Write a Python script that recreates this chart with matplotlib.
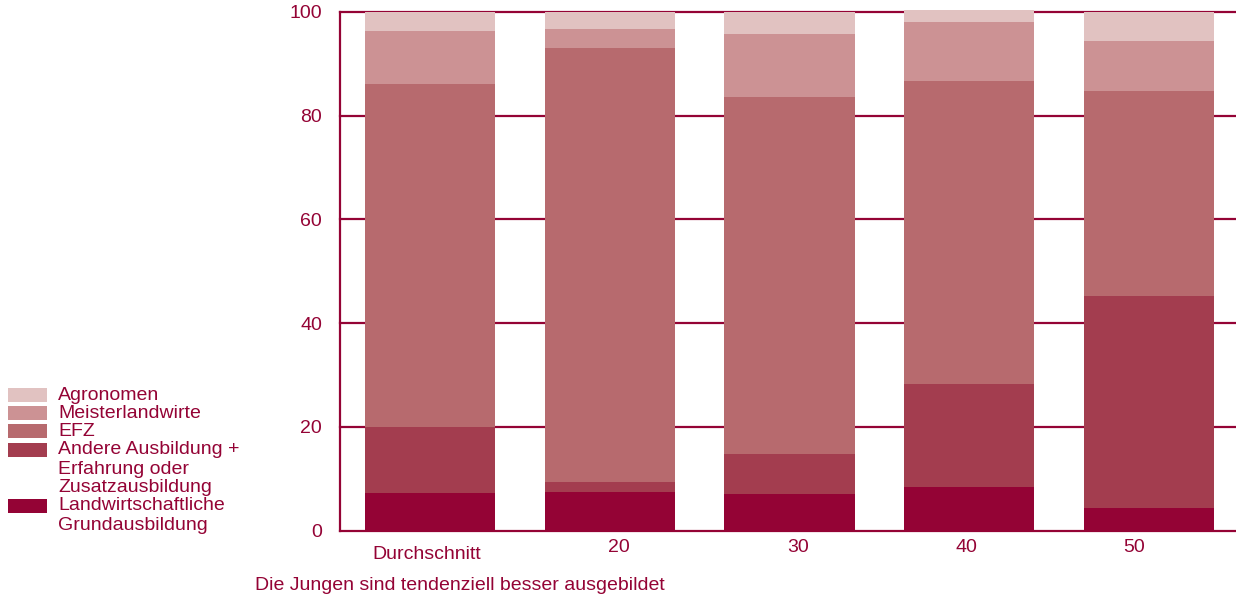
import matplotlib.pyplot as plt
import matplotlib.transforms as mtransforms
from matplotlib.patches import Rectangle

categories = ["Durchschnitt", "20", "30", "40", "50"]
landwirtschaftliche = [7.2, 7.4, 7.0, 8.4, 4.3]
andere = [12.8, 2.0, 7.8, 19.9, 41.0]
efz = [66.2, 83.6, 68.9, 58.3, 39.4]
meister = [10.2, 3.8, 12.0, 11.4, 9.8]
agronomen = [3.6, 3.2, 4.3, 2.4, 5.5]

series_labels = [
    "Landwirtschaftliche\nGrundausbildung",
    "Andere Ausbildung +\nErfahrung oder\nZusatzausbildung",
    "EFZ",
    "Meisterlandwirte",
    "Agronomen",
]
yticks = [0, 20, 40, 60, 80, 100]
caption = "Die Jungen sind tendenziell besser ausgebildet"

DARK = "#940335"
colors = ["#940335", "#a33d4f", "#b76a6e", "#cc9294", "#e1c2c1"]
FS = 14

plt.rcParams.update({"font.family": ["Liberation Sans", "DejaVu Sans"], "font.size": FS})

W, H = 1236, 597
fig = plt.figure(figsize=(W / 100, H / 100), dpi=100)
ax = fig.add_axes([340 / W, (H - 530.5) / H, 899 / W, (530.5 - 12) / H])

xs = list(range(len(categories)))
bottoms = [0.0] * len(categories)
for values, color in zip([landwirtschaftliche, andere, efz, meister, agronomen], colors):
    ax.bar(xs, values, bottom=bottoms, width=0.725, color=color, zorder=3, clip_on=False)
    bottoms = [b + v for b, v in zip(bottoms, values)]

ax.set_xlim(-0.5, 4.5)
ax.set_ylim(0, 100)
ax.set_yticks(yticks)
ax.set_xticks(xs)
ax.set_xticklabels(categories)
ax.tick_params(length=0, colors=DARK, labelcolor=DARK, labelsize=FS)
ax.tick_params(axis="y", pad=13)
ax.tick_params(axis="x", pad=6)
ax.yaxis.grid(True, color=DARK, linewidth=1.6, zorder=1)
ax.set_axisbelow(True)
for line in ax.get_ygridlines():
    line.set_clip_on(False)
for side in ["top", "right", "bottom"]:
    ax.spines[side].set_visible(False)
ax.spines["left"].set_color(DARK)
ax.spines["left"].set_linewidth(1.6)

# category labels in the original are not exactly centred under the bars
label_shift = [(-3, -7), (9, 0), (9, 0), (-3, 0), (-15, 0)]
for lab, (dx, dy) in zip(ax.get_xticklabels(), label_shift):
    lab.set_transform(lab.get_transform() + mtransforms.ScaledTranslation(dx / 100, dy / 100, fig.dpi_scale_trans))

# legend on the left, top entry first
legend_rows = [
    (4, 395, [395]),
    (3, 413, [413]),
    (2, 431, [431]),
    (1, 450, [450, 469, 487]),
    (0, 506, [506, 525]),
]
for idx, patch_y, line_ys in legend_rows:
    fig.add_artist(Rectangle((8 / W, (H - patch_y - 7) / H), 39 / W, 14 / H,
                             transform=fig.transFigure, color=colors[idx], lw=0))
    for text, ly in zip(series_labels[idx].split("\n"), line_ys):
        fig.text(58 / W, (H - ly) / H, text, color=DARK, va="center", ha="left", fontsize=FS)

fig.text(255 / W, (H - 585) / H, caption, color=DARK, va="center", ha="left", fontsize=FS)

fig.savefig("out.png", dpi=100)
